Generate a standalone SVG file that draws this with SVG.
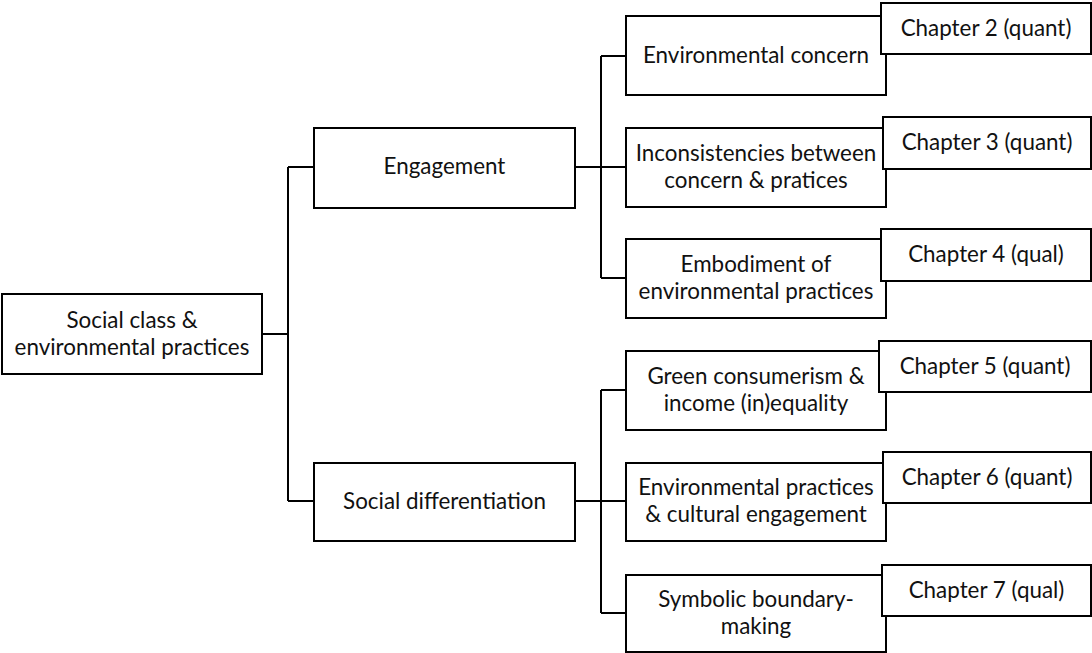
<svg xmlns="http://www.w3.org/2000/svg" width="1092" height="653" viewBox="0 0 1092 653">
  <style>
    .box { fill: #ffffff; stroke: #000000; stroke-width: 2; }
    .link { fill: none; stroke: #000000; stroke-width: 2; }
    text { font-family: Lato, "Liberation Sans", sans-serif; font-size: 22.4px; fill: #111111; text-anchor: middle; }
  </style>
  <rect width="1092" height="653" fill="#ffffff"/>

  <!-- tree connectors -->
  <g id="connectors">
    <path class="link" d="M262 334 H288"/>
    <path class="link" d="M288 167 V501"/>
    <path class="link" d="M288 167 H314"/>
    <path class="link" d="M288 501 H314"/>
    <path class="link" d="M575 167 H626"/>
    <path class="link" d="M575 501 H626"/>
    <path class="link" d="M601 56 V278"/>
    <path class="link" d="M601 56 H626"/>
    <path class="link" d="M601 278 H626"/>
    <path class="link" d="M601 390 V613"/>
    <path class="link" d="M601 390 H626"/>
    <path class="link" d="M601 613 H626"/>
  </g>

  <!-- root -->
  <g id="root">
    <rect class="box" x="2" y="294" width="260" height="80"/>
    <text x="132" y="328">Social class &amp;</text>
    <text x="132" y="355">environmental practices</text>
  </g>

  <!-- second level -->
  <g id="engagement">
    <rect class="box" x="314" y="128" width="261" height="80"/>
    <text x="444.5" y="174">Engagement</text>
  </g>
  <g id="social-differentiation">
    <rect class="box" x="314" y="463" width="261" height="78"/>
    <text x="444.5" y="509">Social differentiation</text>
  </g>

  <!-- topics with chapter tags -->
  <g id="environmental-concern">
    <rect class="box" x="626" y="16" width="260" height="79"/>
    <text x="756" y="63">Environmental concern</text>
  </g>
  <g id="chapter-2">
    <rect class="box" x="881" y="3" width="210" height="51"/>
    <text x="986" y="36">Chapter 2 (quant)</text>
  </g>

  <g id="inconsistencies">
    <rect class="box" x="626" y="128" width="260" height="79"/>
    <text x="756" y="161">Inconsistencies between</text>
    <text x="756" y="188">concern &amp; pratices</text>
  </g>
  <g id="chapter-3">
    <rect class="box" x="883" y="117" width="208" height="52"/>
    <text x="987" y="150">Chapter 3 (quant)</text>
  </g>

  <g id="embodiment">
    <rect class="box" x="626" y="239" width="260" height="79"/>
    <text x="756" y="272">Embodiment of</text>
    <text x="756" y="299">environmental practices</text>
  </g>
  <g id="chapter-4">
    <rect class="box" x="881" y="229" width="210" height="52"/>
    <text x="986" y="262">Chapter 4 (qual)</text>
  </g>

  <g id="green-consumerism">
    <rect class="box" x="626" y="351" width="260" height="79"/>
    <text x="756" y="384">Green consumerism &amp;</text>
    <text x="756" y="411">income (in)equality</text>
  </g>
  <g id="chapter-5">
    <rect class="box" x="879" y="341" width="212" height="51"/>
    <text x="985" y="374">Chapter 5 (quant)</text>
  </g>

  <g id="cultural-engagement">
    <rect class="box" x="626" y="463" width="260" height="78"/>
    <text x="756" y="495">Environmental practices</text>
    <text x="756" y="522">&amp; cultural engagement</text>
  </g>
  <g id="chapter-6">
    <rect class="box" x="883" y="452" width="208" height="51"/>
    <text x="987" y="485">Chapter 6 (quant)</text>
  </g>

  <g id="symbolic-boundary">
    <rect class="box" x="626" y="575" width="260" height="77"/>
    <text x="756" y="607">Symbolic boundary-</text>
    <text x="756" y="634">making</text>
  </g>
  <g id="chapter-7">
    <rect class="box" x="882" y="565" width="209" height="51"/>
    <text x="986.5" y="598">Chapter 7 (qual)</text>
  </g>
</svg>
